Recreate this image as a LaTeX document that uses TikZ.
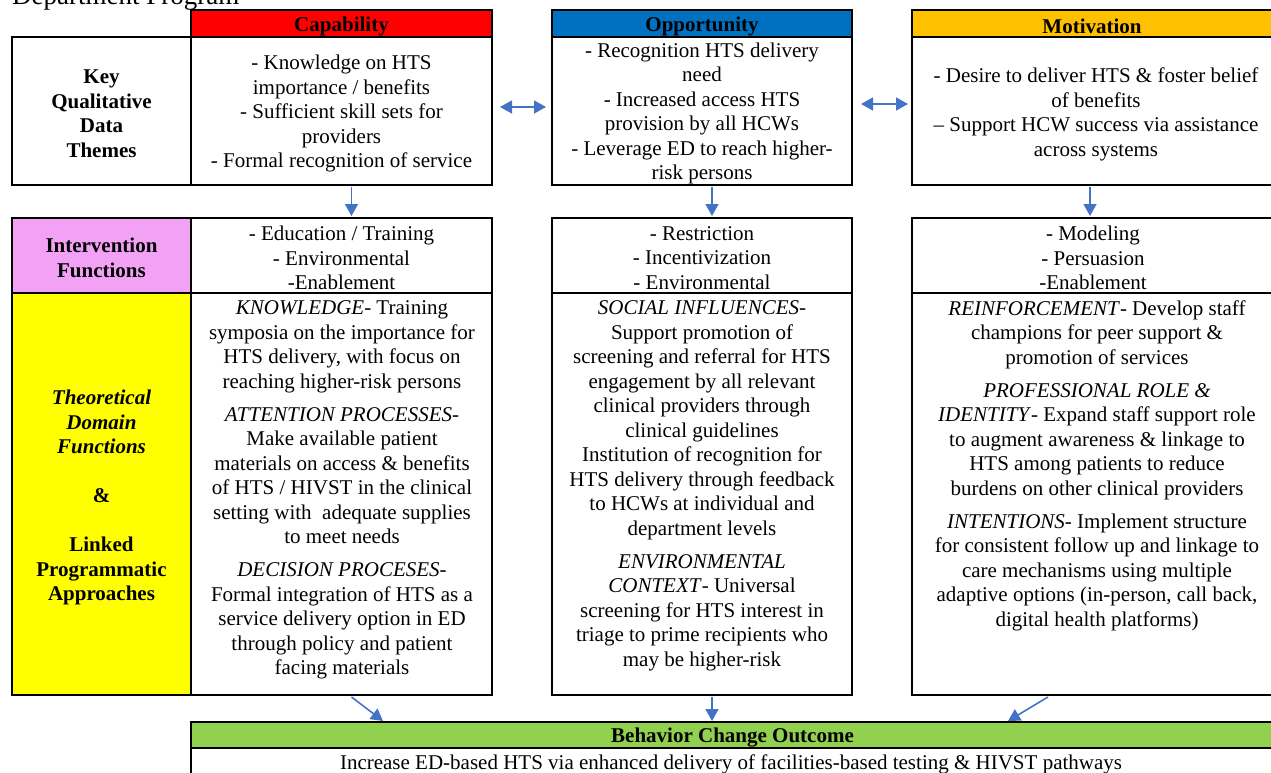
\documentclass[tikz,border=0pt]{standalone}
\usepackage{fontspec}
\setmainfont{Liberation Serif}
\usetikzlibrary{arrows.meta}
\definecolor{capred}{HTML}{FF0000}
\definecolor{oppblue}{HTML}{0070C0}
\definecolor{motorange}{HTML}{FFC000}
\definecolor{intpink}{HTML}{F2A1F5}
\definecolor{thyellow}{HTML}{FFFF00}
\definecolor{outgreen}{HTML}{92D050}
\definecolor{arrowblue}{HTML}{4472C4}
\begin{document}
\begin{tikzpicture}[x=1pt,y=-1pt,
  cell/.style={draw=black,line width=2pt,anchor=north west,inner sep=0pt,outer sep=0pt},
  txt/.style={align=center,inner sep=0pt,yshift=-2.5pt,font=\fontsize{21}{24.5}\selectfont},
  btxt/.style={txt,font=\fontsize{21}{24.5}\selectfont\bfseries},
  conn/.style={draw=arrowblue,line width=1.6pt,-{Triangle[length=12pt,width=13pt]}},
  dconn/.style={draw=arrowblue,line width=1.6pt,{Triangle[length=12pt,width=13pt]}-{Triangle[length=12pt,width=13pt]}}
]
\useasboundingbox (0,0) rectangle (1271,773);
\clip (0,0) rectangle (1271,773);

% title (cut off at top, as in the source)
\node[anchor=base west,inner sep=0pt,font=\fontsize{27}{30}\selectfont] (title) at (12,5) {Department Program};

% headers
\node[cell,fill=capred,minimum width=301pt,minimum height=27pt] (capH) at (191,10) {};
\node[cell,fill=oppblue,minimum width=300pt,minimum height=27pt] (oppH) at (552,10) {};
\node[cell,fill=motorange,minimum width=362pt,minimum height=27pt] (motH) at (912,10) {};
\node[btxt] (capHt) at (capH.center) {Capability};
\node[btxt] (oppHt) at (oppH.center) {Opportunity};
\node[btxt] (motHt) at ([xshift=-1pt]motH.center) {Motivation};

% row 1
\node[cell,minimum width=179pt,minimum height=148pt] (keyB) at (12,37) {};
\node[cell,minimum width=301pt,minimum height=148pt] (capB) at (191,37) {};
\node[cell,minimum width=300pt,minimum height=148pt] (oppB) at (552,37) {};
\node[cell,minimum width=362pt,minimum height=148pt] (motB) at (912,37) {};
\node[btxt] (keyT) at (keyB.center) {Key\\Qualitative\\Data\\Themes};
\node[txt] (capT) at (capB.center) {- Knowledge on HTS\\importance / benefits\\- Sufficient skill sets for\\providers\\- Formal recognition of service};
\node[txt] (oppT) at (oppB.center) {- Recognition HTS delivery\\need\\- Increased access HTS\\provision by all HCWs\\- Leverage ED to reach higher-\\risk persons};
\node[txt] (motT) at ([xshift=3pt,yshift=-1pt]motB.center) {- Desire to deliver HTS \& foster belief\\of benefits\\– Support HCW success via assistance\\across systems};

% row 2
\node[cell,fill=intpink,minimum width=179pt,minimum height=75pt] (intL) at (12,218) {};
\node[cell,minimum width=301pt,minimum height=75pt] (capI) at (191,218) {};
\node[cell,minimum width=300pt,minimum height=75pt] (oppI) at (552,218) {};
\node[cell,minimum width=362pt,minimum height=75pt] (motI) at (912,218) {};
\node[btxt] (intT) at (intL.center) {Intervention\\Functions};
\node[txt] (capIt) at (capI.center) {- Education / Training\\- Environmental\\-Enablement};
\node[txt] (oppIt) at (oppI.center) {- Restriction\\- Incentivization\\- Environmental};
\node[txt] (motIt) at (motI.center) {- Modeling\\- Persuasion\\-Enablement};

% row 3
\node[cell,fill=thyellow,minimum width=179pt,minimum height=402pt] (thL) at (12,293) {};
\node[cell,minimum width=301pt,minimum height=402pt] (cap3) at (191,293) {};
\node[cell,minimum width=300pt,minimum height=402pt] (opp3) at (552,293) {};
\node[cell,minimum width=362pt,minimum height=402pt] (mot3) at (912,293) {};
\node[btxt] (thT) at ([yshift=-1pt]thL.center) {\itshape Theoretical\\\itshape Domain\\\itshape Functions\\[24.5pt]\&\\[24.5pt]Linked\\Programmatic\\Approaches};

\node[txt,anchor=north] (cap3t) at (342,298) {\textit{KNOWLEDGE}- Training\\symposia on the importance for\\HTS delivery, with focus on\\reaching higher-risk persons\\[8.5pt]\textit{ATTENTION PROCESSES}-\\Make available patient\\materials on access \& benefits\\of HTS / HIVST in the clinical\\setting with\ \ adequate supplies\\to meet needs\\[8.5pt]\textit{DECISION PROCESES}-\\Formal integration of HTS as a\\service delivery option in ED\\through policy and patient\\facing materials};
\node[txt,anchor=north] (opp3t) at (702,298) {\textit{SOCIAL INFLUENCES}-\\Support promotion of\\screening and referral for HTS\\engagement by all relevant\\clinical providers through\\clinical guidelines\\Institution of recognition for\\HTS delivery through feedback\\to HCWs at individual and\\department levels\\[8.5pt]\textit{ENVIRONMENTAL}\\\textit{CONTEXT}- Universal\\screening for HTS interest in\\triage to prime recipients who\\may be higher-risk};
\node[txt,anchor=north] (mot3t) at (1097,298) {\textit{REINFORCEMENT}- Develop staff\\champions for peer support \&\\promotion of services\\[8.5pt]\textit{PROFESSIONAL ROLE \&}\\\textit{IDENTITY}- Expand staff support role\\to augment awareness \& linkage to\\HTS among patients to reduce\\burdens on other clinical providers\\[8.5pt]\textit{INTENTIONS}- Implement structure\\for consistent follow up and linkage to\\care mechanisms using multiple\\adaptive options (in-person, call back,\\digital health platforms)};

% outcome
\node[cell,fill=outgreen,minimum width=1083pt,minimum height=26pt] (outH) at (191,722) {};
\node[cell,minimum width=1083pt,minimum height=40pt] (outB) at (191,748) {};
\node[btxt] (outHt) at (outH.center) {Behavior Change Outcome};
\node[txt] (outT) at (731,762) {Increase ED-based HTS via enhanced delivery of facilities-based testing \& HIVST pathways};

% connectors
\draw[dconn] ([xshift=8pt,yshift=4pt]capB.east) -- ([xshift=-6pt,yshift=4pt]oppB.west);
\draw[dconn] ([xshift=9pt,yshift=7pt]oppB.east) -- ([xshift=-4pt,yshift=7pt]motB.west);

\draw[conn] ([xshift=10pt,yshift=-2pt]capB.south) -- ([xshift=10pt,yshift=2pt]capI.north);
\draw[conn] ([xshift=10pt,yshift=-2pt]oppB.south) -- ([xshift=10pt,yshift=2pt]oppI.north);
\draw[conn] ([xshift=-3pt,yshift=-2pt]motB.south) -- ([xshift=-3pt,yshift=2pt]motI.north);

\coordinate (o1) at (383,721);
\coordinate (o2) at (712,721);
\coordinate (o3) at (1008,721);
\draw[conn] ([xshift=10pt,yshift=-2pt]cap3.south) -- (o1);
\draw[conn] ([xshift=10pt,yshift=-2pt]opp3.south) -- (o2);
\draw[conn] ([xshift=-45pt,yshift=-2pt]mot3.south) -- (o3);
\end{tikzpicture}
\end{document}
